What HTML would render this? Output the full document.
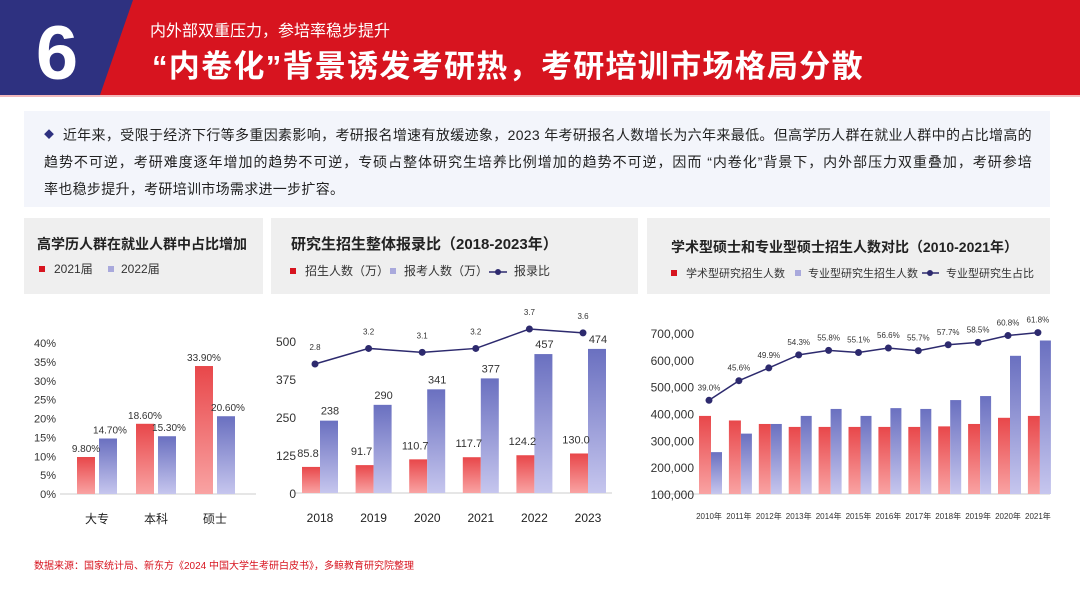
<!DOCTYPE html>
<html><head><meta charset="utf-8">
<style>
body{margin:0;width:1080px;height:608px;overflow:hidden;background:#fff;font-family:"Liberation Sans","Noto Sans CJK SC",sans-serif;}
#root{position:relative;width:1080px;height:608px;}
.abs{position:absolute;}
.ln{white-space:nowrap;}
.j{text-align:justify;text-align-last:justify;}
</style></head>
<body>
<div id="root">
<svg class="abs" style="left:0;top:0" width="1080" height="100">
<rect x="0" y="0" width="1080" height="95" fill="#d7141f"/>
<polygon points="0,0 133,0 100,95 0,95" fill="#2e3180"/>
<rect x="0" y="95" width="1080" height="2" fill="#f2b8bb"/>
<text x="57" y="79" text-anchor="middle" fill="#fff" font-size="76" font-weight="bold" font-family="Liberation Sans,sans-serif">6</text>
<text x="150" y="36" fill="#fff" font-size="16" font-family="Liberation Sans,Noto Sans CJK SC,sans-serif">内外部双重压力，参培率稳步提升</text>
<text x="152" y="77" fill="#fff" font-size="31" font-weight="bold" letter-spacing="1.3" font-family="Liberation Sans,Noto Sans CJK SC,sans-serif">“内卷化”背景诱发考研热，考研培训市场格局分散</text>
</svg>
<div class="abs" style="left:24px;top:111px;width:1026px;height:96px;background:#f3f5fb;">
<div class="abs" style="left:20px;top:11px;width:988px;font-size:14px;letter-spacing:0.3px;line-height:27px;color:#222;">
<div class="ln j"><span style="color:#2e3180;font-size:10px;vertical-align:2px">◆</span>&nbsp; 近年来，受限于经济下行等多重因素影响，考研报名增速有放缓迹象，2023 年考研报名人数增长为六年来最低。但高学历人群在就业人群中的占比增高的</div>
<div class="ln j">趋势不可逆，考研难度逐年增加的趋势不可逆，专硕占整体研究生培养比例增加的趋势不可逆，因而 “内卷化”背景下，内外部压力双重叠加，考研参培</div>
<div class="ln">率也稳步提升，考研培训市场需求进一步扩容。</div>
</div>
</div>
<svg id="charts" class="abs" style="left:0;top:0" width="1080" height="608" font-family="Liberation Sans,Noto Sans CJK SC,sans-serif">
<defs>
<linearGradient id="gr" x1="0" y1="0" x2="0" y2="1"><stop offset="0" stop-color="#e8474a"/><stop offset="1" stop-color="#f9a3a3"/></linearGradient>
<linearGradient id="gb" x1="0" y1="0" x2="0" y2="1"><stop offset="0" stop-color="#6a70c0"/><stop offset="1" stop-color="#c6c6ee"/></linearGradient>
</defs>
<g>
<rect x="24" y="218" width="239" height="76" fill="#efefef"/>
<text x="37" y="249" font-size="14" font-weight="bold" fill="#222">高学历人群在就业人群中占比增加</text>
<rect x="39" y="266" width="6" height="6" fill="#d7141f"/><text x="54" y="273" font-size="12" fill="#333">2021届</text>
<rect x="108" y="266" width="6" height="6" fill="#a9a9dc"/><text x="121" y="273" font-size="12" fill="#333">2022届</text>
</g>
<g>
<rect x="271" y="218" width="367" height="76" fill="#efefef"/>
<text x="291" y="249" font-size="15" font-weight="bold" fill="#222">研究生招生整体报录比（2018-2023年）</text>
<rect x="290" y="268" width="6" height="6" fill="#d7141f"/><text x="305" y="275" font-size="12" fill="#333">招生人数（万）</text>
<rect x="390" y="268" width="6" height="6" fill="#a9a9dc"/><text x="404" y="275" font-size="12" fill="#333">报考人数（万）</text>
<line x1="489" y1="272" x2="507" y2="272" stroke="#2d2a6e" stroke-width="1.5"/><circle cx="498" cy="272" r="3" fill="#2d2a6e"/>
<text x="514" y="275" font-size="12" fill="#333">报录比</text>
</g>
<g>
<rect x="647" y="218" width="403" height="76" fill="#efefef"/>
<text x="671" y="252" font-size="14" font-weight="bold" fill="#222">学术型硕士和专业型硕士招生人数对比（2010-2021年）</text>
<rect x="671" y="270" width="6" height="6" fill="#d7141f"/><text x="686" y="277" font-size="11" fill="#333">学术型研究招生人数</text>
<rect x="795" y="270" width="6" height="6" fill="#a9a9dc"/><text x="808" y="277" font-size="11" fill="#333">专业型研究生招生人数</text>
<line x1="922" y1="273" x2="939" y2="273" stroke="#2d2a6e" stroke-width="1.5"/><circle cx="930" cy="273" r="3" fill="#2d2a6e"/>
<text x="946" y="277" font-size="11" fill="#333">专业型研究生占比</text>
</g>
<g id="c1"></g>
<g id="c2"></g>
<g id="c3"></g>
<text x="34" y="569" font-size="10" fill="#d7141f">数据来源：国家统计局、新东方《2024 中国大学生考研白皮书》，多鲸教育研究院整理</text>
</svg>
</div>
<script>
const c1Cats=["大专","本科","硕士"];
const c1A=[9.8,18.6,33.9];
const c1B=[14.7,15.3,20.6];
const c1Ticks=[0,5,10,15,20,25,30,35,40];
const c2Cats=["2018","2019","2020","2021","2022","2023"];
const c2Enroll=[85.8,91.7,110.7,117.7,124.2,130.0];
const c2Apply=[238,290,341,377,457,474];
const c2Ratio=[2.8,3.2,3.1,3.2,3.7,3.6];
const c2Ticks=[0,125,250,375,500];
const c3Cats=["2010年","2011年","2012年","2013年","2014年","2015年","2016年","2017年","2018年","2019年","2020年","2021年"];
const c3Acad=[391000,374000,361000,350000,350000,350000,350000,350000,352000,361000,384000,391000];
const c3Prof=[256000,325000,361000,391000,417000,391000,420000,417000,450000,465000,615000,672000];
const c3Pct=[39.0,45.6,49.9,54.3,55.8,55.1,56.6,55.7,57.7,58.5,60.8,61.8];
const c3Ticks=[100000,200000,300000,400000,500000,600000,700000];
const NS="http://www.w3.org/2000/svg";
function mk(p,t,a,txt){const e=document.createElementNS(NS,t);for(const k in a)e.setAttribute(k,a[k]);if(txt!==undefined)e.textContent=txt;p.appendChild(e);return e;}
// chart1
(function(){const g=document.getElementById('c1');
const y=v=>494-v/40*151, x=i=>100+i*59;
mk(g,'line',{x1:60,y1:494,x2:256,y2:494,stroke:'#ccc'});
c1Ticks.forEach(t=>{const e=mk(g,'text',{x:56,y:y(t)+4,'text-anchor':'end','font-size':11,fill:'#333'},t+'%');});
c1Cats.forEach((c,i)=>{
const a=mk(g,'rect',{x:x(i)-23,y:y(c1A[i]),width:18,height:494-y(c1A[i]),fill:'url(#gr)'});

const b=mk(g,'rect',{x:x(i)-1,y:y(c1B[i]),width:18,height:494-y(c1B[i]),fill:'url(#gb)'});

mk(g,'text',{x:x(i)-14,y:y(c1A[i])-5,'text-anchor':'middle','font-size':10,fill:'#333'},c1A[i].toFixed(2)+'%');
mk(g,'text',{x:x(i)+10,y:y(c1B[i])-5,'text-anchor':'middle','font-size':10,fill:'#333'},c1B[i].toFixed(2)+'%');
const l=mk(g,'text',{x:x(i)-3,y:523,'text-anchor':'middle','font-size':12,fill:'#222'},c);

});})();
// chart2
(function(){const g=document.getElementById('c2');
const y=v=>493-v/500*152, x=i=>320+i*53.6, yr=r=>364-(r-2.8)*38.9;
mk(g,'line',{x1:295,y1:493,x2:612,y2:493,stroke:'#ccc'});
c2Ticks.forEach(t=>{const e=mk(g,'text',{x:296,y:y(t)+5,'text-anchor':'end','font-size':12,fill:'#333'},t);});
c2Cats.forEach((c,i)=>{
const a=mk(g,'rect',{x:x(i)-18,y:y(c2Enroll[i]),width:18,height:493-y(c2Enroll[i]),fill:'url(#gr)'});

const b=mk(g,'rect',{x:x(i),y:y(c2Apply[i]),width:18,height:493-y(c2Apply[i]),fill:'url(#gb)'});

mk(g,'text',{x:x(i)-12,y:y(c2Enroll[i])-10,'text-anchor':'middle','font-size':11,fill:'#333'},c2Enroll[i].toFixed(1));
mk(g,'text',{x:x(i)+10,y:y(c2Apply[i])-6,'text-anchor':'middle','font-size':11,fill:'#333'},c2Apply[i]);
const l=mk(g,'text',{x:x(i),y:522,'text-anchor':'middle','font-size':12,fill:'#222'},c);

});
const ln=mk(g,'polyline',{points:c2Ratio.map((r,i)=>(x(i)-5)+','+yr(r)).join(' '),fill:'none',stroke:'#2d2a6e','stroke-width':1.5});

c2Ratio.forEach((r,i)=>{const p=mk(g,'circle',{cx:x(i)-5,cy:yr(r),r:3.5,fill:'#2d2a6e'});
mk(g,'text',{x:x(i)-5,y:yr(r)-14,'text-anchor':'middle','font-size':8,fill:'#333'},r.toFixed(1));});
})();
// chart3
(function(){const g=document.getElementById('c3');
const y=v=>494-(v-100000)/600000*161, x=i=>709+i*29.9, yp=p=>400.3-(p-39)*2.97;
mk(g,'line',{x1:655,y1:494,x2:1050,y2:494,stroke:'#ccc'});
c3Ticks.forEach(t=>{const e=mk(g,'text',{x:694,y:y(t)+5,'text-anchor':'end','font-size':12,fill:'#333'},t.toLocaleString('en-US'));});
c3Cats.forEach((c,i)=>{
const a=mk(g,'rect',{x:x(i)-10,y:y(c3Acad[i]),width:12,height:494-y(c3Acad[i]),fill:'url(#gr)'});

const b=mk(g,'rect',{x:x(i)+2,y:y(c3Prof[i]),width:11,height:494-y(c3Prof[i]),fill:'url(#gb)'});

const l=mk(g,'text',{x:x(i),y:519,'text-anchor':'middle','font-size':8,fill:'#333'},c);

});
const ln=mk(g,'polyline',{points:c3Pct.map((p,i)=>x(i)+','+yp(p)).join(' '),fill:'none',stroke:'#2d2a6e','stroke-width':1.5});

c3Pct.forEach((p,i)=>{const d=mk(g,'circle',{cx:x(i),cy:yp(p),r:3.5,fill:'#2d2a6e'});
mk(g,'text',{x:x(i),y:yp(p)-10,'text-anchor':'middle','font-size':8,fill:'#333'},p.toFixed(1)+'%');});
})();
</script>
</body></html>
